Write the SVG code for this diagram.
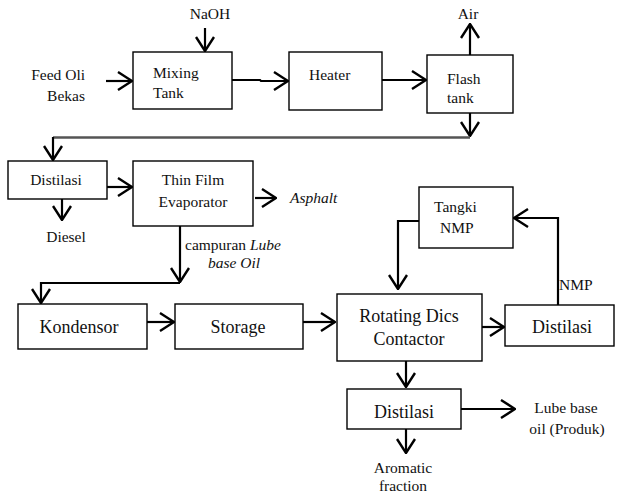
<svg xmlns="http://www.w3.org/2000/svg" width="618" height="497" viewBox="0 0 618 497" font-family="'Liberation Serif', Tinos, 'DejaVu Serif', serif">
<style>
.box{fill:#fff;stroke:#000;stroke-width:1.4}
text{font-family:'Liberation Serif', Tinos, 'DejaVu Serif', serif;font-size:15.5px;fill:#111}
.big{font-size:18px}
.it{font-style:italic}
.c{text-anchor:middle}
.e{text-anchor:end}
.ar{fill:none;stroke:#000;stroke-width:2.2;marker-end:url(#h)}
</style>
<defs>
<marker id="h" viewBox="0 0 16 20" refX="15" refY="10" markerWidth="16" markerHeight="20" markerUnits="userSpaceOnUse" orient="auto">
<path d="M1,1 L15,10 L1,19" fill="none" stroke="#000" stroke-width="2.4"/>
</marker>
</defs>
<g id="connectors">
<path class="ar" d="M205,28 V51"/>
<path class="ar" d="M106,81 H132"/>
<path class="ar" d="M232,80 H260 L261,81 H288"/>
<path class="ar" d="M382,80 H426"/>
<path class="ar" d="M470,55 V24"/>
<path class="ar" d="M470,113 V136"/>
<path fill="none" stroke="#555" stroke-width="2.4" d="M470,137.5 H53"/>
<path class="ar" d="M53,137 V160"/>
<path class="ar" d="M107,187 H132"/>
<path class="ar" d="M62,199 V220"/>
<path class="ar" d="M255,198 H276"/>
<path class="ar" d="M180,226 V282"/>
<path class="ar" d="M180,283 H41 V303"/>
<path class="ar" d="M147,322 H174"/>
<path class="ar" d="M303,322 H335"/>
<path class="ar" d="M419,221 H398 V289"/>
<path class="ar" d="M482,327 H504"/>
<path class="ar" d="M558,305 V218 H514"/>
<path class="ar" d="M406,361 V387"/>
<path class="ar" d="M461,409 H515"/>
<path class="ar" d="M406,429 V453"/>
</g>
<g id="feed"><text class="e" x="85" y="80">Feed Oli</text><text class="e" x="85" y="101">Bekas</text></g>
<g id="naoh"><text class="c" x="210" y="19">NaOH</text></g>
<g id="mixing"><rect class="box" x="133" y="52" width="99" height="57"/><text x="153" y="78">Mixing</text><text x="153" y="98">Tank</text></g>
<g id="heater"><rect class="box" x="289" y="52" width="93" height="58"/><text x="309" y="80">Heater</text></g>
<g id="flash"><rect class="box" x="427" y="55" width="86" height="58"/><text x="447" y="84">Flash</text><text x="447" y="103">tank</text></g>
<g id="air"><text class="c" x="468" y="19">Air</text></g>
<g id="distilasi1"><rect class="box" x="8" y="161" width="99" height="38"/><text class="c" x="56" y="185">Distilasi</text></g>
<g id="diesel"><text class="c" x="66" y="242">Diesel</text></g>
<g id="tfe"><rect class="box" x="133" y="161" width="120" height="65"/><text class="c" x="193" y="185">Thin Film</text><text class="c" x="193" y="207">Evaporator</text></g>
<g id="asphalt"><text class="it" x="290" y="203">Asphalt</text></g>
<g id="campuran"><text x="185" y="250">campuran <tspan class="it">Lube</tspan></text><text class="it" x="208" y="268">base Oil</text></g>
<g id="kondensor"><rect class="box" x="18" y="304" width="129" height="45"/><text class="c big" x="79" y="333">Kondensor</text></g>
<g id="storage"><rect class="box" x="175" y="304" width="128" height="45"/><text class="c big" x="238" y="333">Storage</text></g>
<g id="rdc"><rect class="box" x="337" y="294" width="145" height="67"/><text class="c big" x="409" y="322">Rotating Dics</text><text class="c big" x="409" y="345">Contactor</text></g>
<g id="tangki"><rect class="box" x="419" y="187" width="94" height="61"/><text x="434" y="212">Tangki</text><text x="440" y="233">NMP</text></g>
<g id="nmp"><text x="559" y="290">NMP</text></g>
<g id="distilasi2"><rect class="box" x="505" y="305" width="109" height="41"/><text class="c big" x="562" y="333">Distilasi</text></g>
<g id="distilasi3"><rect class="box" x="347" y="389" width="114" height="40"/><text class="c big" x="404" y="418">Distilasi</text></g>
<g id="lube"><text class="c" x="566" y="413">Lube base</text><text class="c" x="567" y="434">oil (Produk)</text></g>
<g id="aromatic"><text class="c" x="403" y="473">Aromatic</text><text class="c" x="403" y="491">fraction</text></g>
</svg>
